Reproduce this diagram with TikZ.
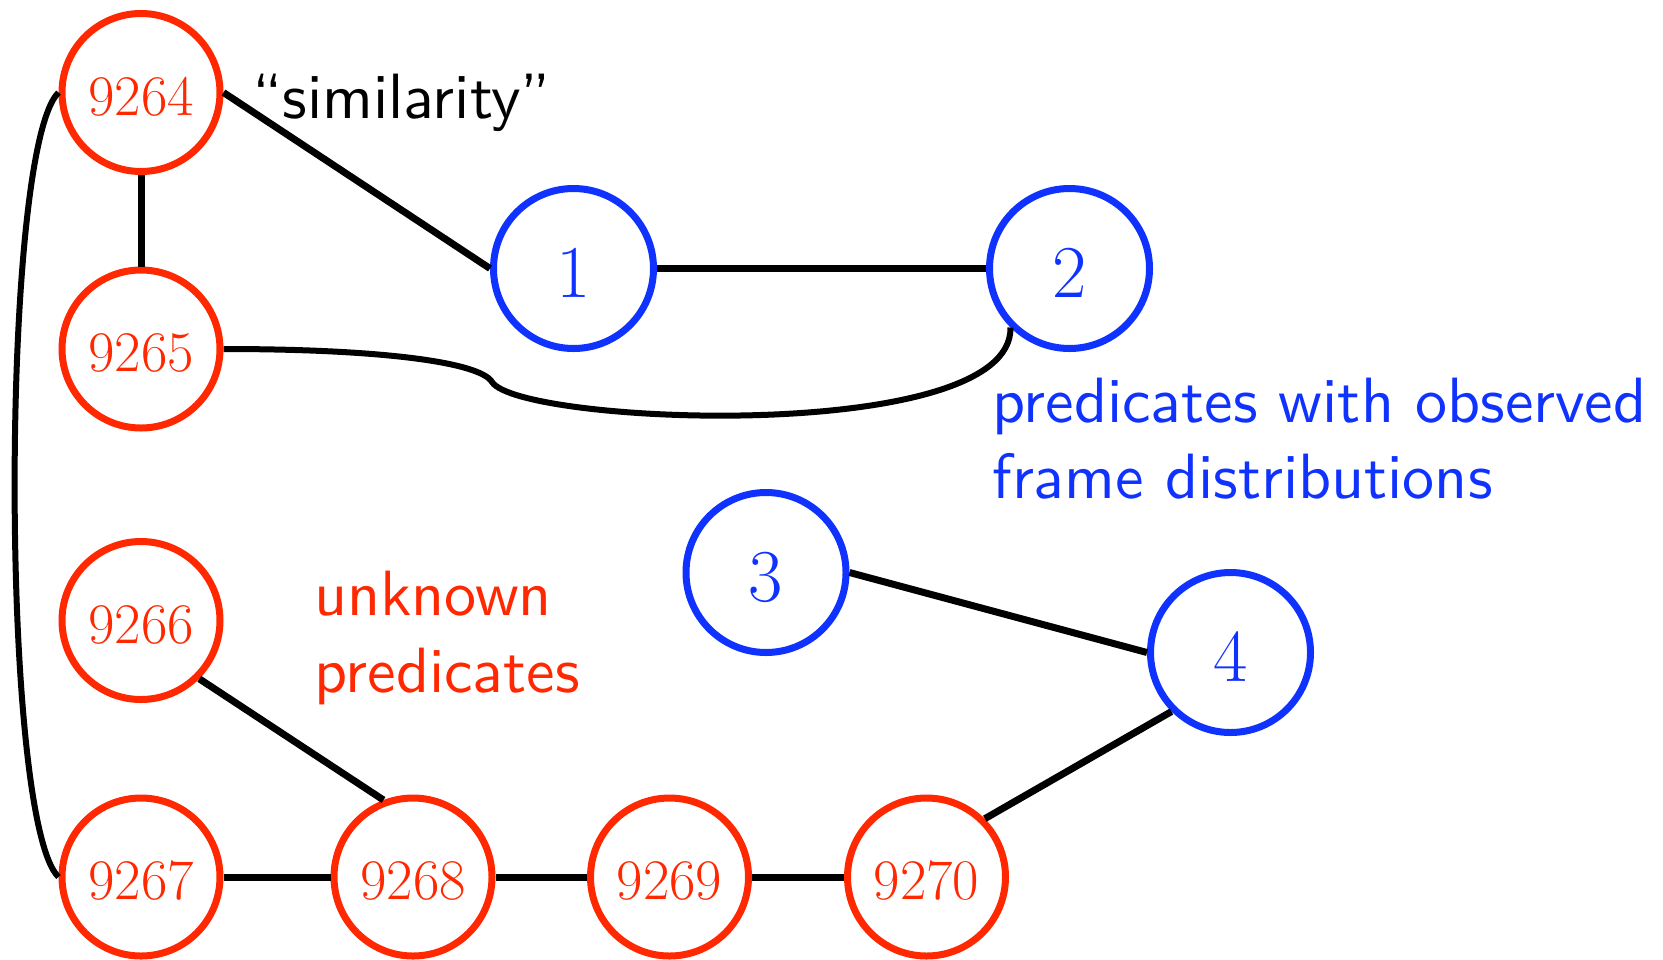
\documentclass[tikz,border=0pt]{standalone}
\usepackage{fontspec}
\newfontfamily\labfont[Ligatures=TeX]{lmsans10-regular.otf}
\definecolor{pred}{RGB}{255,40,0}
\definecolor{pblue}{RGB}{15,50,255}
\begin{document}
\begin{tikzpicture}[x=0.5pt,y=-0.5pt,
  rnode/.style={circle,draw=pred,line width=3.5pt,minimum size=79pt,inner sep=0pt,text=pred,
    font=\fontsize{28.7}{30}\selectfont,text height=22.5pt,text depth=0pt},
  bnode/.style={circle,draw=pblue,line width=3.5pt,minimum size=80pt,inner sep=0pt,text=pblue,
    font=\fontsize{37.3}{40}\selectfont,text height=29pt,text depth=0pt},
  linkline/.style={line width=3.5pt},
  curveline/.style={line width=3pt},
  lab/.style={font=\labfont\fontsize{32}{38}\selectfont,anchor=base west,inner sep=0pt}]
\useasboundingbox (0,0) rectangle (1663,959);
% red nodes
\node[rnode] (n9264) at (141,92.5) {9264};
\node[rnode] (n9265) at (141,349) {9265};
\node[rnode] (n9266) at (141,620.5) {9266};
\node[rnode] (n9267) at (141,877) {9267};
\node[rnode] (n9268) at (413,877) {9268};
\node[rnode] (n9269) at (669.5,877) {9269};
\node[rnode] (n9270) at (926.5,877) {9270};
% blue nodes
\node[bnode] (b1) at (573.5,268.5) {1};
\node[bnode] (b2) at (1069.5,268.5) {2};
\node[bnode] (b3) at (766,572.5) {3};
\node[bnode] (b4) at (1230.5,652.5) {4};
% labels
\node[lab] (sim) at (252,118) {``similarity''};
\node[lab,text=pred] (unk1) at (314,615) {unknown};
\node[lab,text=pred] (unk2) at (314,692) {predicates};
\node[lab,text=pblue] (obs1) at (992,422) {predicates with observed};
\node[lab,text=pblue] (obs2) at (992,498) {frame distributions};
% connectors
\coordinate (kink) at (492,382);
\draw[linkline] (n9264) -- (n9265);
\draw[linkline] (n9264.east) -- (b1.west);
\draw[linkline] (b1) -- (b2);
\draw[linkline] (b3.east) -- (b4.west);
\draw[linkline] (b4.south west) -- (n9270.north east);
\draw[linkline] (n9266.south east) -- (n9268.111);
\draw[linkline] (n9267) -- (n9268);
\draw[linkline] (n9268) -- (n9269);
\draw[linkline] (n9269) -- (n9270);
\draw[curveline] (n9264.west) .. controls (0,150) and (0,820) .. (n9267.west);
\draw[curveline] (n9265.east) .. controls (380,349) and (480,362) .. (kink)
  .. controls (520,425) and (1013,445) .. (b2.south west);
\end{tikzpicture}
\end{document}
